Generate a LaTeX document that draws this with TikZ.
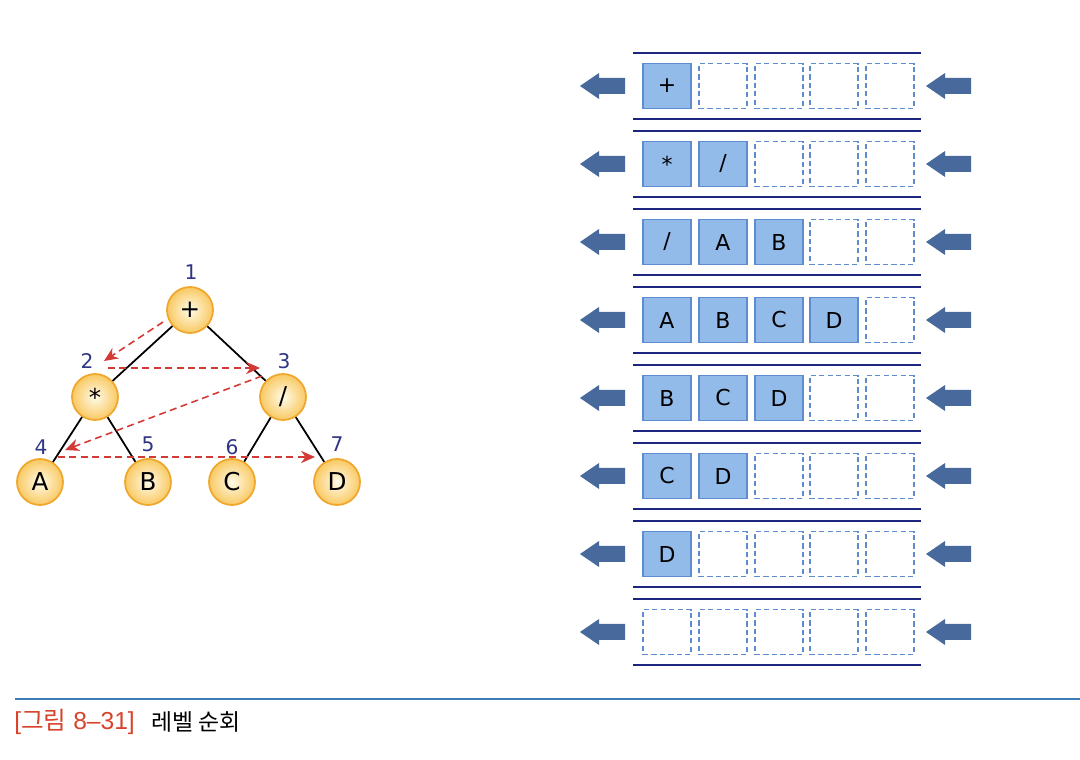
\documentclass[tikz,border=0pt]{standalone}
\usepackage{fontspec}
\setsansfont{DejaVu Sans}
\newfontfamily\krfont{Noto Sans CJK KR}
\newfontfamily\capfont{Liberation Sans}
\usepackage{tikz}
\usetikzlibrary{arrows.meta}
\tikzset{>=Stealth}
\definecolor{nodeedge}{HTML}{EFA72E}
\definecolor{nodein}{HTML}{FFFBE8}
\definecolor{nodeout}{HTML}{F9C963}
\definecolor{numblue}{HTML}{2E3585}
\definecolor{visitred}{HTML}{D23A36}
\definecolor{queueline}{HTML}{1C2580}
\definecolor{cellfill}{HTML}{93BBEA}
\definecolor{celledge}{HTML}{5F8BD0}
\definecolor{arrowblue}{HTML}{48699B}
\definecolor{rulecol}{HTML}{3D7DB3}
\definecolor{captionred}{HTML}{D7432B}
\tikzset{
    treenode/.style={circle,draw=nodeedge,line width=1pt,inner color=nodein,outer color=nodeout,
        minimum size=0.92cm,inner sep=0pt,font=\sffamily\fontsize{14}{16}\selectfont},
    treenum/.style={text=numblue,inner sep=0pt,font=\sffamily\fontsize{11.5}{13}\selectfont},
    visit/.style={->,>={Stealth[length=8pt,width=7pt]},visitred,line width=0.9pt,dash pattern=on 4pt off 2.5pt},
    fullcell/.style={draw=celledge,fill=cellfill,line width=0.7pt,minimum width=0.96cm,
        minimum height=0.9cm,inner sep=0pt,font=\sffamily\fontsize{12.5}{14}\selectfont},
    freecell/.style={fullcell,fill=none,dash pattern=on 3pt off 1.8pt},
    qline/.style={queueline,line width=1.3pt},
    qarrow/.pic={\fill[arrowblue] (0,0) -- (19,-13) -- (19,-8) -- (45,-8) -- (45,8) -- (19,8) -- (19,13) -- cycle;}
}

\begin{document}
\begin{tikzpicture}[x=0.02cm,y=-0.02cm]
    \useasboundingbox (0,0) rectangle (1080,760);
    % tree
    \node[treenode] at (190,310) (plus) {+};
    \node[treenode] at (95,397) (times) {*};
    \node[treenode] at (283,397) (slash) {/};
    \node[treenode] at (40,482) (leafA) {A};
    \node[treenode] at (148,482) (leafB) {B};
    \node[treenode] at (232,482) (leafC) {C};
    \node[treenode] at (337,482) (leafD) {D};
    \node[treenum] at (191,272) (num1) {1};
    \node[treenum] at (87,361) (num2) {2};
    \node[treenum] at (284,361) (num3) {3};
    \node[treenum] at (41,447) (num4) {4};
    \node[treenum] at (148,444) (num5) {5};
    \node[treenum] at (232,447) (num6) {6};
    \node[treenum] at (337,444) (num7) {7};
    \path[line width=1pt]
    (plus) edge (times)
    (plus) edge (slash)
    (times) edge (leafA)
    (times) edge (leafB)
    (slash) edge (leafC)
    (slash) edge (leafD)
    ;
    % visiting order
    \coordinate (v1a) at (163,322);
    \coordinate (v1b) at (104,361);
    \coordinate (v2a) at (108,368);
    \coordinate (v2b) at (260,368);
    \coordinate (v3a) at (262,376);
    \coordinate (v3b) at (65,450);
    \coordinate (v4a) at (58,457);
    \coordinate (v4b) at (315,457);
    \draw[visit] (v1a) -- (v1b);
    \draw[visit] (v2a) -- (v2b);
    \draw[visit] (v3a) -- (v3b);
    \draw[visit] (v4a) -- (v4b);
    % queue states
    \draw[qline] (633,53) -- (921,53) (633,119) -- (921,119);
    \draw[qline] (633,131) -- (921,131) (633,197) -- (921,197);
    \draw[qline] (633,209) -- (921,209) (633,275) -- (921,275);
    \draw[qline] (633,287) -- (921,287) (633,353) -- (921,353);
    \draw[qline] (633,365) -- (921,365) (633,431) -- (921,431);
    \draw[qline] (633,443) -- (921,443) (633,509) -- (921,509);
    \draw[qline] (633,521) -- (921,521) (633,587) -- (921,587);
    \draw[qline] (633,599) -- (921,599) (633,665) -- (921,665);
    \node[fullcell] at (667,86) (q1a) {+};
    \node[freecell] at (723,86) (q1b) {};
    \node[freecell] at (779,86) (q1c) {};
    \node[freecell] at (834,86) (q1d) {};
    \node[freecell] at (890,86) (q1e) {};
    \node[fullcell] at (667,164) (q2a) {*};
    \node[fullcell] at (723,164) (q2b) {/};
    \node[freecell] at (779,164) (q2c) {};
    \node[freecell] at (834,164) (q2d) {};
    \node[freecell] at (890,164) (q2e) {};
    \node[fullcell] at (667,242) (q3a) {/};
    \node[fullcell] at (723,242) (q3b) {A};
    \node[fullcell] at (779,242) (q3c) {B};
    \node[freecell] at (834,242) (q3d) {};
    \node[freecell] at (890,242) (q3e) {};
    \node[fullcell] at (667,320) (q4a) {A};
    \node[fullcell] at (723,320) (q4b) {B};
    \node[fullcell] at (779,320) (q4c) {C};
    \node[fullcell] at (834,320) (q4d) {D};
    \node[freecell] at (890,320) (q4e) {};
    \node[fullcell] at (667,398) (q5a) {B};
    \node[fullcell] at (723,398) (q5b) {C};
    \node[fullcell] at (779,398) (q5c) {D};
    \node[freecell] at (834,398) (q5d) {};
    \node[freecell] at (890,398) (q5e) {};
    \node[fullcell] at (667,476) (q6a) {C};
    \node[fullcell] at (723,476) (q6b) {D};
    \node[freecell] at (779,476) (q6c) {};
    \node[freecell] at (834,476) (q6d) {};
    \node[freecell] at (890,476) (q6e) {};
    \node[fullcell] at (667,554) (q7a) {D};
    \node[freecell] at (723,554) (q7b) {};
    \node[freecell] at (779,554) (q7c) {};
    \node[freecell] at (834,554) (q7d) {};
    \node[freecell] at (890,554) (q7e) {};
    \node[freecell] at (667,632) (q8a) {};
    \node[freecell] at (723,632) (q8b) {};
    \node[freecell] at (779,632) (q8c) {};
    \node[freecell] at (834,632) (q8d) {};
    \node[freecell] at (890,632) (q8e) {};
    % front and rear arrows
    \pic at (580,86) {qarrow};  \pic at (926,86) {qarrow};
    \pic at (580,164) {qarrow}; \pic at (926,164) {qarrow};
    \pic at (580,242) {qarrow}; \pic at (926,242) {qarrow};
    \pic at (580,320) {qarrow}; \pic at (926,320) {qarrow};
    \pic at (580,398) {qarrow}; \pic at (926,398) {qarrow};
    \pic at (580,476) {qarrow}; \pic at (926,476) {qarrow};
    \pic at (580,554) {qarrow}; \pic at (926,554) {qarrow};
    \pic at (580,632) {qarrow}; \pic at (926,632) {qarrow};
    % caption
    \draw[rulecol,line width=0.6pt] (15,699) -- (1080,699);
    \node[anchor=west,inner sep=0pt,text=captionred,font=\capfont\fontsize{14}{16}\selectfont] at (14,722) (figno) {[{\krfont 그림} 8–31]};
    \node[anchor=west,inner sep=0pt,font=\krfont\fontsize{13}{15}\selectfont] at (151,722) (figtitle) {레벨 순회};
\end{tikzpicture}
\end{document}
